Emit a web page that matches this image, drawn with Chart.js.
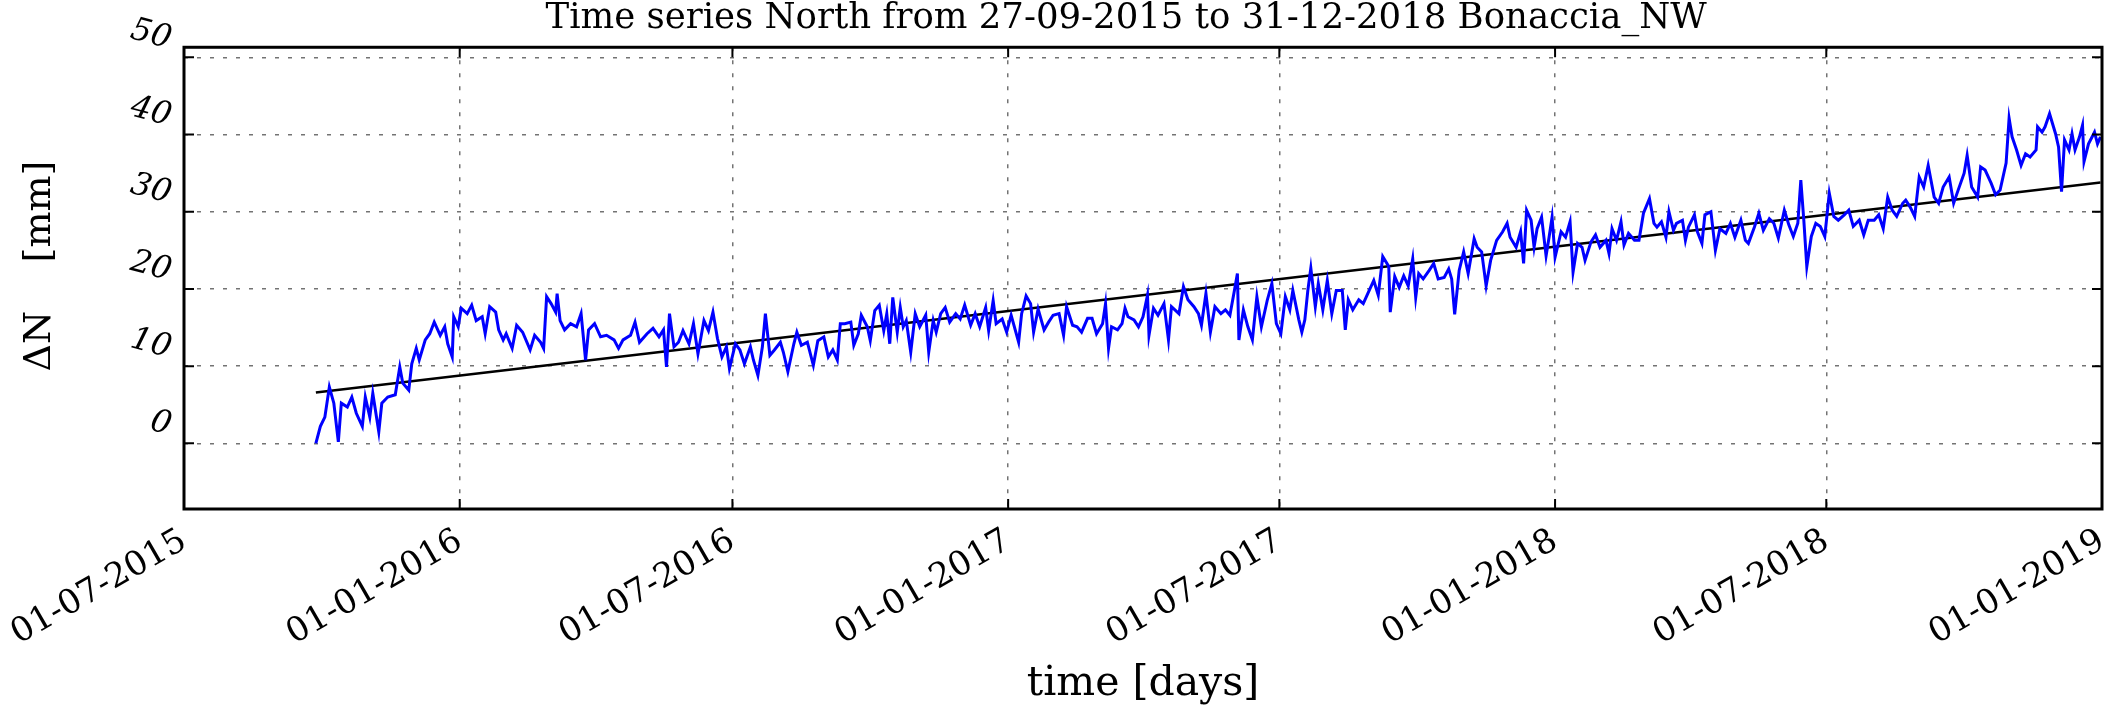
<!DOCTYPE html>
<html>
<head>
<meta charset="utf-8">
<script src="https://cdn.jsdelivr.net/npm/chart.js@4/dist/chart.umd.min.js"></script>
<style>
  html, body { margin: 0; padding: 0; background: #fff; }
  canvas { display: block; }
</style>
</head>
<body>
<canvas id="tsChart" width="2106" height="708"></canvas>
<script>
// days counted from 01-07-2015 (the left edge of the axis)
const dayOffsets = [
  88, 91, 94, 97, 100, 103, 105, 109, 112, 115, 119, 121, 124, 126, 130, 132, 136, 141, 144, 146,
  150, 152, 155, 157, 161, 164, 167, 171, 174, 176, 179, 180, 183, 185, 189, 192, 195, 199, 201, 204,
  208, 210, 213, 215, 219, 222, 226, 231, 234, 238, 240, 242, 245, 248, 249, 251, 254, 258, 262, 265,
  268, 270, 274, 278, 282, 287, 290, 293, 298, 301, 304, 309, 313, 317, 320, 322, 324, 327, 330,
  333, 337, 340, 343, 347, 350, 353, 356, 359, 362, 364, 368, 371, 374, 378, 380, 383, 386, 388, 391,
  394, 398, 400, 403, 407, 409, 412, 416, 420, 423, 427, 430, 433, 436, 438, 441, 445, 447, 450, 452,
  456, 458, 461, 464, 467, 469, 471, 473, 476, 478, 480, 482, 485, 488, 491, 495, 497, 500, 502, 505,
  508, 511, 515, 518, 521, 525, 528, 531, 535, 537, 540, 542, 546, 549, 552, 557, 559, 562, 565, 567, 570,
  574, 577, 580, 584, 587, 589, 593, 596, 599, 603, 606, 609, 613, 615, 617, 619, 623, 626, 628, 630,
  634, 637, 640, 643, 644, 647, 650, 654, 657, 659, 664, 667, 670, 674, 677, 679, 682, 685, 688, 692,
  695, 698, 701, 703, 704, 707, 710, 713, 716, 719, 723, 726, 729, 732, 735, 738, 740, 744, 746, 748,
  750, 752, 755, 757, 760, 763, 766, 769, 773, 775, 777, 780, 784, 787, 790, 794, 797, 800, 804, 805, 808,
  811, 814, 817, 820, 822, 824, 827, 831, 834, 837, 841, 844, 846, 848, 851, 854, 857, 861, 863, 866,
  869, 872, 876, 880, 883, 885, 889, 892, 894, 896, 899, 901, 903, 906, 909, 911, 913, 915, 919, 922,
  925, 927, 930, 933, 935, 939, 942, 945, 949, 951, 953, 956, 959, 961, 964, 968, 971, 974, 978, 981,
  983, 986, 989, 991, 994, 996, 1000, 1002, 1004, 1008, 1010, 1013, 1015, 1019, 1022, 1025, 1029, 1032, 1035, 1039,
  1042, 1044, 1048, 1051,
  1054, 1058, 1061, 1064, 1068, 1071, 1074, 1077, 1079, 1081, 1083, 1086, 1089, 1092, 1095, 1098, 1101, 1104, 1108, 1111,
  1114, 1118, 1121, 1124, 1128, 1131, 1134, 1137, 1140, 1143, 1147, 1149, 1152, 1155, 1158, 1161, 1164, 1168, 1171, 1174,
  1178, 1181, 1184, 1188, 1190, 1193, 1197, 1199, 1202, 1206, 1209, 1212, 1216, 1218, 1220, 1223, 1226, 1229, 1232, 1236,
  1237, 1240, 1242, 1245, 1247, 1249, 1251, 1253, 1255, 1258, 1260, 1262, 1265, 1267, 1268, 1271, 1275, 1277, 1279
];

// ΔN in mm
const northValues = [
  0.0, 2.2, 3.4, 7.3, 5.2, 0.2, 5.2, 4.7, 6.0, 3.9, 2.2, 6.0, 3.4, 6.5, 1.5, 5.2, 6.0, 6.3, 9.9, 7.8,
  6.9, 10.3, 12.3, 10.8, 13.4, 14.2, 15.7, 14.0, 15.1, 12.9, 11.2, 16.4, 15.1, 17.5, 16.8, 17.9, 15.9, 16.4, 14.2, 17.7,
  17.0, 14.7, 13.4, 14.2, 12.3, 15.3, 14.4, 12.1, 14.0, 13.1, 12.3, 19.0, 18.1, 17.0, 19.4, 15.9, 14.7, 15.5, 15.1, 16.8,
  10.8, 14.7, 15.5, 13.8, 14.0, 13.4, 12.3, 13.4, 14.0, 15.7, 13.1, 14.2, 14.9, 13.8, 14.7, 9.9, 16.8, 12.5, 13.1,
  14.6, 12.9, 15.5, 11.6, 15.9, 14.6, 17.0, 13.6, 11.2, 12.5, 9.7, 12.9, 12.1, 10.3, 12.5, 10.8, 8.8, 12.5, 16.8, 11.4,
  12.1, 13.1, 11.8, 9.3, 12.9, 14.4, 12.7, 13.1, 10.1, 13.3, 13.8, 11.2, 12.1, 10.8, 15.5, 15.5, 15.7, 12.7, 14.2, 16.6,
  15.1, 13.3, 17.2, 17.9, 14.6, 16.8, 12.9, 18.9, 14.4, 17.6, 15.1, 15.9, 11.8, 16.8, 15.1, 16.6, 11.8, 15.9, 14.4, 16.8,
  17.6, 15.7, 16.8, 16.1, 17.9, 15.3, 16.8, 15.1, 17.6, 14.6, 18.5, 15.5, 16.1, 14.4, 16.6, 13.1, 16.8, 19.1, 18.1, 14.4, 17.4,
  14.7, 15.7, 16.6, 16.8, 14.0, 17.7, 15.3, 15.1, 14.4, 16.2, 16.2, 14.2, 15.5, 18.1, 12.3, 15.1, 14.7, 15.5, 17.5, 16.4,
  16.0, 15.1, 16.4, 19.2, 14.0, 17.5, 16.6, 18.1, 13.4, 17.7, 16.8, 20.3, 18.6, 17.7, 16.8, 15.3, 19.4, 14.4, 17.7, 16.8,
  17.3, 16.6, 19.8, 22.0, 13.4, 17.3, 15.1, 13.4, 19.0, 15.1, 18.6, 20.7, 15.5, 14.2, 19.0, 17.3, 19.8, 16.0, 14.4, 16.0,
  19.8, 22.7, 17.7, 20.7, 17.3, 21.1, 16.8, 19.8, 19.8, 14.7, 18.6, 17.3, 18.6, 18.1, 19.4, 21.1, 19.2, 24.2, 22.9, 17.0, 21.6,
  20.2, 21.7, 20.4, 23.9, 18.9, 22.0, 21.3, 22.4, 23.3, 21.3, 21.5, 22.6, 21.3, 16.7, 22.4, 24.8, 22.0, 26.5, 25.4, 24.8,
  20.4, 23.7, 26.3, 27.4, 28.5, 26.7, 25.4, 27.4, 23.3, 30.2, 28.9, 25.4, 27.8, 29.3, 24.3, 26.7, 29.3, 24.1, 27.4, 26.7,
  28.7, 22.2, 25.9, 25.4, 23.7, 26.1, 27.0, 25.4, 26.3, 24.6, 27.8, 26.3, 28.7, 25.7, 27.2, 26.3, 26.3, 29.8, 31.7, 28.5,
  28.0, 28.7, 26.7, 30.0, 27.6, 28.5, 28.9, 26.3, 28.0, 29.6, 27.4, 25.9, 29.6, 30.0, 25.0, 27.8, 27.2, 28.5, 26.7, 28.9,
  26.3, 25.9, 28.0, 29.8,
  27.6, 29.1, 28.5, 26.6, 30.2, 28.3, 26.8, 28.5, 34.1, 28.9, 22.9, 26.8, 28.5, 28.1, 26.8, 32.4, 29.4, 28.9, 29.6, 30.2,
  28.1, 28.9, 27.0, 28.9, 28.9, 29.6, 27.8, 31.9, 30.2, 29.4, 31.1, 31.5, 30.6, 29.4, 34.5, 33.2, 36.0, 31.9, 31.1, 33.2,
  34.5, 31.1, 32.8, 35.0, 37.3, 33.2, 31.9, 35.8, 35.4, 33.7, 32.2, 32.8, 36.3, 42.1, 39.7, 38.0, 36.0, 37.5, 37.1, 38.0,
  41.0, 40.3, 41.0, 42.7, 41.4, 40.1, 38.4, 32.6, 39.3, 38.0, 40.1, 38.0, 39.7, 41.2, 36.5, 38.8, 40.3, 38.8, 39.7
];

// linear trend, end points only
const trendDays = [88, 1279];
const trendValues = [6.6, 33.8];

const tickDays = [0, 184, 366, 550, 731, 915, 1096, 1280];
const tickLabels = ['01-07-2015', '01-01-2016', '01-07-2016', '01-01-2017',
                    '01-07-2017', '01-01-2018', '01-07-2018', '01-01-2019'];
const yTicks = [0, 10, 20, 30, 40, 50];

const serif = "'DejaVu Serif', serif";

// frame round the plot and the inward tick marks, matplotlib style
const framePlugin = {
    id: 'frame',
    afterDraw(chart) {
        const { ctx, chartArea: a, scales } = chart;
        ctx.save();
        ctx.strokeStyle = '#000';
        ctx.lineWidth = 2;
        tickDays.forEach(d => {
            const px = scales.x.getPixelForValue(d);
            ctx.beginPath();
            ctx.moveTo(px, a.bottom); ctx.lineTo(px, a.bottom - 10);
            ctx.moveTo(px, a.top); ctx.lineTo(px, a.top + 10);
            ctx.stroke();
        });
        yTicks.forEach(v => {
            const py = scales.y.getPixelForValue(v);
            ctx.beginPath();
            ctx.moveTo(a.left, py); ctx.lineTo(a.left + 10, py);
            ctx.moveTo(a.right, py); ctx.lineTo(a.right - 10, py);
            ctx.stroke();
        });
        ctx.lineWidth = 3;
        ctx.strokeRect(a.left, a.top, a.right - a.left, a.bottom - a.top);
        ctx.restore();
    }
};

const ctx = document.getElementById('tsChart');

new Chart(ctx, {
    type: 'line',
    data: {
        datasets: [{
            label: 'North',
            data: dayOffsets.map((d, i) => ({ x: d, y: northValues[i] })),
            borderColor: '#0000ff',
            borderWidth: 3,
            pointRadius: 0,
            tension: 0
        }, {
            label: 'trend',
            data: trendDays.map((d, i) => ({ x: d, y: trendValues[i] })),
            borderColor: '#000000',
            borderWidth: 2.5,
            pointRadius: 0
        }]
    },
    options: {
        responsive: false,
        animation: false,
        devicePixelRatio: 1,
        layout: { autoPadding: false, padding: { left: 0, right: 4, top: 0, bottom: 0 } },
        plugins: {
            legend: { display: false },
            tooltip: { enabled: false },
            title: {
                display: true,
                fullSize: false,
                // trailing spaces nudge the centred title a little left, as in the original
                text: 'Time series North from 27-09-2015 to 31-12-2018 Bonaccia_NW   ',
                color: '#000',
                font: { family: serif, size: 35.5, weight: 'normal', lineHeight: 1.05 },
                padding: { top: 0, bottom: 10 }
            }
        },
        scales: {
            x: {
                type: 'linear',
                min: 0,
                max: 1280,
                afterBuildTicks: s => { s.ticks = tickDays.map(v => ({ value: v })); },
                afterFit: s => { s.height = 199; s.paddingLeft = 0; s.paddingRight = 0; },
                grid: { color: 'rgba(0,0,0,0.55)', lineWidth: 1.5, drawTicks: false },
                border: { display: false, dash: [4, 9] },
                ticks: {
                    autoSkip: false,
                    minRotation: 30,
                    maxRotation: 30,
                    padding: 12,
                    color: '#000',
                    font: { family: serif, size: 34 },
                    callback: (v, i) => tickLabels[i]
                },
                title: {
                    display: true,
                    text: 'time [days]',
                    color: '#000',
                    font: { family: serif, size: 41, lineHeight: 1 },
                    padding: { top: 0, bottom: 3 }
                }
            },
            y: {
                min: -8.5,
                max: 51.3,
                afterBuildTicks: s => { s.ticks = yTicks.map(v => ({ value: v })); },
                afterFit: s => { s.width = 184; s.paddingTop = 0; s.paddingBottom = 0; },
                grid: { color: 'rgba(0,0,0,0.55)', lineWidth: 1.5, drawTicks: false },
                border: { display: false, dash: [4, 9] },
                ticks: {
                    minRotation: -15,
                    maxRotation: -15,
                    padding: 18,
                    color: '#000',
                    font: { family: serif, size: 32, style: 'italic', lineHeight: 1.1 },
                    callback: v => [String(v), '']
                },
                title: {
                    display: true,
                    text: '  ΔN    [mm]',
                    color: '#000',
                    font: { family: serif, size: 38, lineHeight: 1 },
                    padding: { top: 21, bottom: 0 }
                }
            }
        }
    },
    plugins: [framePlugin]
});
</script>
</body>
</html>
